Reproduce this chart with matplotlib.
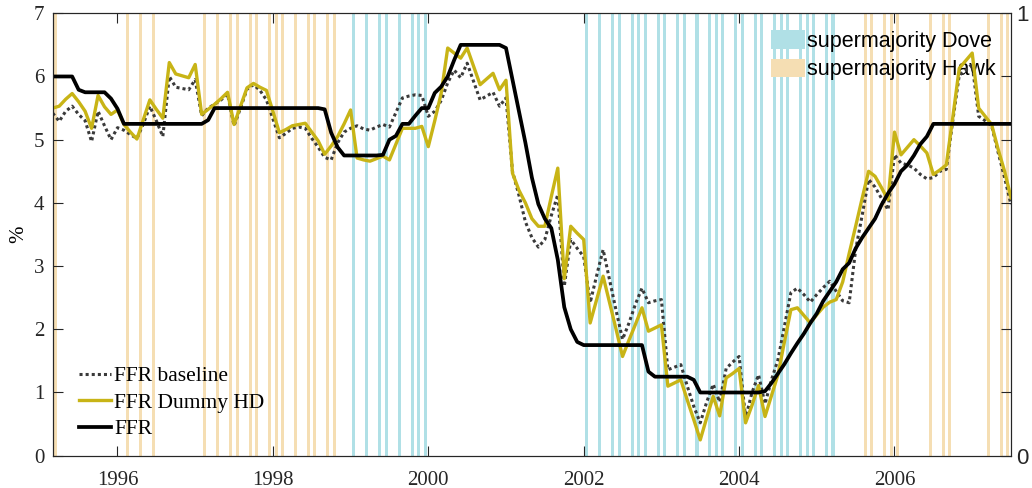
import numpy as np
import pandas as pd
import matplotlib
matplotlib.use("Agg")
import matplotlib.pyplot as plt

# monthly series, Mar 1995 .. Jul 2007 (plotted at start of month)
months = pd.date_range("1995-03-01", "2007-07-01", freq="MS")

ffr = [
    6.00, 6.00, 6.00, 6.00, 5.79, 5.75, 5.75, 5.75, 5.75, 5.65,                    # 1995
    5.49, 5.25, 5.25, 5.25, 5.25, 5.25, 5.25, 5.25, 5.25, 5.25, 5.25, 5.25,        # 1996
    5.25, 5.25, 5.31, 5.50, 5.50, 5.50, 5.50, 5.50, 5.50, 5.50, 5.50, 5.50,        # 1997
    5.50, 5.50, 5.50, 5.50, 5.50, 5.50, 5.50, 5.50, 5.48, 5.11, 4.88, 4.75,        # 1998
    4.75, 4.75, 4.75, 4.75, 4.75, 4.76, 5.00, 5.06, 5.25, 5.25, 5.38, 5.50,        # 1999
    5.50, 5.74, 5.84, 6.00, 6.26, 6.50, 6.50, 6.50, 6.50, 6.50, 6.50, 6.50,        # 2000
    6.45, 5.95, 5.45, 4.95, 4.40, 3.98, 3.75, 3.60, 3.10, 2.35, 2.00, 1.80,        # 2001
    1.75, 1.75, 1.75, 1.75, 1.75, 1.75, 1.75, 1.75, 1.75, 1.75, 1.33, 1.25,        # 2002
    1.25, 1.25, 1.25, 1.25, 1.25, 1.20, 1.00, 1.00, 1.00, 1.00, 1.00, 1.00,        # 2003
    1.00, 1.00, 1.00, 1.00, 1.02, 1.15, 1.30, 1.45, 1.62, 1.78, 1.93, 2.10,        # 2004
    2.25, 2.45, 2.60, 2.75, 2.95, 3.05, 3.28, 3.45, 3.60, 3.75, 3.97, 4.15,        # 2005
    4.30, 4.50, 4.60, 4.75, 4.93, 5.05, 5.25, 5.25, 5.25, 5.25, 5.25, 5.25,        # 2006
    5.25, 5.25, 5.25, 5.25, 5.25, 5.25, 5.25,                                      # 2007
]

ffr_baseline = [
    5.42, 5.29, 5.45, 5.53, 5.40, 5.30, 4.97, 5.45, 5.22, 5.00,
    5.19, 5.15, 5.08, 5.02, 5.25, 5.53, 5.30, 5.05, 6.00, 5.83, 5.81, 5.79,
    5.95, 5.38, 5.50, 5.56, 5.63, 5.72, 5.22, 5.50, 5.80, 5.87, 5.78, 5.63,
    5.33, 5.03, 5.10, 5.18, 5.20, 5.18, 5.02, 4.88, 4.72, 4.68, 4.95, 5.12,
    5.18, 5.22, 5.17, 5.15, 5.20, 5.24, 5.20, 5.43, 5.66, 5.69, 5.71, 5.70,
    5.37, 5.45, 5.62, 5.90, 6.10, 5.98, 6.21, 5.92, 5.63, 5.69, 5.75, 5.53,
    5.66, 4.50, 4.12, 3.70, 3.45, 3.30, 3.42, 3.80, 4.13, 2.68, 3.42, 3.28,
    3.15, 2.42, 2.85, 3.26, 2.78, 2.30, 1.84, 2.10, 2.40, 2.65, 2.42, 2.45,
    2.47, 1.36, 1.40, 1.44, 1.10, 0.78, 0.52, 0.85, 1.13, 0.85, 1.38, 1.48,
    1.57, 0.60, 1.00, 1.28, 0.82, 1.20, 1.52, 2.05, 2.58, 2.65, 2.55, 2.43,
    2.55, 2.66, 2.76, 2.60, 2.45, 2.42, 3.26, 3.80, 4.37, 4.25, 4.07, 3.89,
    4.76, 4.63, 4.60, 4.55, 4.45, 4.38, 4.40, 4.50, 4.53, 5.30, 6.02, 6.10,
    6.19, 5.37, 5.30, 5.22, 4.80, 4.40, 3.97,
]

ffr_dummy_hd = [
    5.50, 5.53, 5.64, 5.73, 5.60, 5.45, 5.18, 5.70, 5.52, 5.40,
    5.47, 5.24, 5.12, 5.01, 5.32, 5.63, 5.48, 5.34, 6.22, 6.04, 6.01, 5.98,
    6.19, 5.40, 5.48, 5.56, 5.65, 5.75, 5.24, 5.53, 5.82, 5.89, 5.83, 5.78,
    5.45, 5.11, 5.16, 5.22, 5.24, 5.26, 5.12, 4.98, 4.77, 4.90, 5.05, 5.25,
    5.47, 4.71, 4.68, 4.66, 4.70, 4.74, 4.68, 4.93, 5.18, 5.18, 5.18, 5.21,
    4.89, 5.30, 5.74, 6.45, 6.37, 6.29, 6.45, 6.16, 5.87, 5.96, 6.05, 5.79,
    5.94, 4.47, 4.20, 4.00, 3.75, 3.63, 3.63, 4.10, 4.55, 2.80, 3.63, 3.52,
    3.42, 2.10, 2.47, 2.84, 2.42, 2.00, 1.57, 1.83, 2.08, 2.34, 1.97, 2.02,
    2.07, 1.10, 1.15, 1.20, 0.88, 0.57, 0.25, 0.60, 0.94, 0.63, 1.23, 1.30,
    1.38, 0.52, 0.80, 1.11, 0.62, 0.95, 1.28, 1.80, 2.31, 2.34, 2.22, 2.10,
    2.23, 2.35, 2.43, 2.47, 2.75, 3.20, 3.63, 4.07, 4.50, 4.42, 4.24, 4.05,
    5.12, 4.76, 4.88, 5.00, 4.90, 4.79, 4.45, 4.52, 4.60, 5.35, 6.13, 6.25,
    6.37, 5.50, 5.37, 5.24, 4.85, 4.50, 4.08,
]

# FOMC meetings with a supermajority
dove_months = [
    "1999-01", "1999-03", "1999-05", "1999-06", "1999-08", "1999-10", "1999-11", "1999-12",
    "2002-01", "2002-03", "2002-05", "2002-06", "2002-08", "2002-09", "2002-10", "2002-12",
    "2003-01", "2003-03", "2003-04", "2003-06", "2003-08", "2003-09", "2003-10", "2003-12",
    "2004-01", "2004-03", "2004-04", "2004-06", "2004-07", "2004-08", "2004-10", "2004-11",
    "2004-12", "2005-02", "2005-03",
]
hawk_months = [
    "1995-03", "1996-02", "1996-04", "1996-06", "1997-02", "1997-04", "1997-06", "1997-07",
    "1997-09", "1997-10", "1997-12", "1998-01", "1998-02", "1998-04", "1998-06", "1998-07",
    "1998-09", "1998-10",
    "2005-08", "2005-09", "2005-11", "2005-12", "2006-01", "2006-06", "2006-08", "2006-09",
    "2007-03", "2007-05", "2007-06",
]


def dec_year(dates, offset=0.0):
    d = pd.to_datetime(dates)
    return np.asarray(d.year + (d.month - 1 + offset) / 12.0)


t = dec_year(months)
t_dove = dec_year(dove_months, 0.5)
t_hawk = dec_year(hawk_months, 0.5)

serif = "Liberation Serif"
sans = "Liberation Sans"
fs = 15

fig = plt.figure(figsize=(10.32, 4.88), dpi=100)
ax = fig.add_axes([0.0511, 0.0662, 0.9286, 0.9066])
ax2 = ax.twinx()
ax.set_zorder(ax2.get_zorder() + 1)
ax.patch.set_visible(False)

bw = 0.039
ax2.bar(t_dove, np.ones(len(t_dove)), width=bw, color="#B0E0E6", label="supermajority Dove")
ax2.bar(t_hawk, np.ones(len(t_hawk)), width=bw, color="#F5DEB3", label="supermajority Hawk")
ax2.set_ylim(0, 1)
ax2.set_yticks(np.linspace(0, 1, 8))
ax2.set_yticklabels(["0", "", "", "", "", "", "", "1"], fontfamily=sans, fontsize=fs + 1)
ax2.tick_params(axis="y", direction="in", length=7, width=0.8, pad=4, colors="#262626")
ax2.legend(loc="upper left", bbox_to_anchor=(0.750, 0.962), frameon=False,
           prop={"family": sans, "size": fs + 0.5}, handlelength=1.55, handleheight=0.95,
           handletextpad=0.08, labelspacing=0.32, borderpad=0, borderaxespad=0)

ax.plot(t, ffr_baseline, color="#3a3a3a", lw=2.2, ls=(0, (1, 1)), label="FFR baseline")
ax.plot(t, ffr_dummy_hd, color="#C8B416", lw=2.4, label="FFR Dummy HD")
ax.plot(t, ffr, color="black", lw=2.7, label="FFR")

ax.set_xlim(t[0], t[-1])
ax.set_ylim(0, 7)
ax.set_xticks([1996, 1998, 2000, 2002, 2004, 2006])
ax.set_xticklabels(["1996", "1998", "2000", "2002", "2004", "2006"], fontfamily=serif, fontsize=fs)
ax.set_yticks(range(8))
ax.set_yticklabels([str(v) for v in range(8)], fontfamily=serif, fontsize=fs)
ax.tick_params(axis="x", direction="in", top=True, length=7, width=0.8, pad=11, colors="#262626")
ax.tick_params(axis="y", direction="in", right=False, length=7, width=0.8, pad=6, colors="#262626")
ax.set_ylabel("%", fontfamily=serif, fontsize=fs)
ax.yaxis.set_label_coords(-0.026, 0.5)

for sp in list(ax.spines.values()) + list(ax2.spines.values()):
    sp.set_color("#262626")
    sp.set_linewidth(0.8)

ax.legend(loc="upper left", bbox_to_anchor=(0.027, 0.202), frameon=False,
          prop={"family": serif, "size": fs + 0.5}, handlelength=1.5, handletextpad=0.15,
          labelspacing=0.3, borderpad=0, borderaxespad=0)

fig.savefig("out.png", dpi=100)
